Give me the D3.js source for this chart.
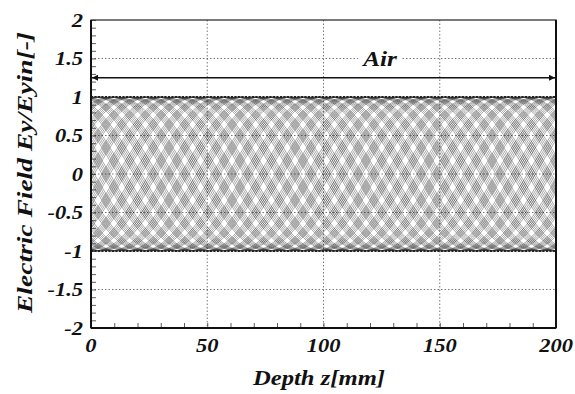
<!DOCTYPE html>
<html><head><meta charset="utf-8">
<script src="https://cdn.jsdelivr.net/npm/d3@7"></script>
<style>body{margin:0;background:#fff}svg{display:block}</style>
</head><body>
<svg id="c" width="575" height="394"></svg>
<script>
// ---- data ----
const xTicks = [0, 50, 100, 150, 200];
const yTicks = [-2, -1.5, -1, -0.5, 0, 0.5, 1, 1.5, 2];
const yTickLabels = ["-2", "-1.5", "-1", "-0.5", "0", "0.5", "1", "1.5", "2"];
const xDomain = [0, 200];
const yDomain = [-2, 2];
const waveAmplitude = [1.0];          // Ey/Eyin peak
const wavelengthMm = [122.0];         // wavelength in air (2.45 GHz)
const phaseGroupDeg = [0, 20, 40, 60, 80, 100, 120, 140, 160, 180, 200, 220, 240, 260, 280, 300, 320, 340];
const phaseSpreadDeg = [-6, -3.5, -1, 1.5, 4];
const sampleStepMm = [0.5];
const regionName = ["Air"];
const regionSpan = [0, 200];
const regionArrowY = [1.25];

// ---- layout ----
const svg = d3.select("#c");
const L = 91, R = 556, T = 20, B = 328;
const x = d3.scaleLinear().domain(xDomain).range([L, R]);
const y = d3.scaleLinear().domain(yDomain).range([B, T]);
const font = sel => sel.style("font-family", '"Liberation Serif", "Times New Roman", serif')
  .style("font-weight", "bold").style("font-style", "italic").style("fill", "#111");

// grid
const g = svg.append("g");
g.selectAll(".gx").data(xTicks.slice(1, -1)).join("line")
  .attr("x1", d => x(d)).attr("x2", d => x(d)).attr("y1", T).attr("y2", B)
  .attr("stroke", "#555").attr("stroke-width", 0.8).attr("stroke-dasharray", "1.5,2");
g.selectAll(".gy").data(yTicks.slice(1, -1)).join("line")
  .attr("x1", L).attr("x2", R).attr("y1", d => y(d)).attr("y2", d => y(d))
  .attr("stroke", "#555").attr("stroke-width", 0.8).attr("stroke-dasharray", "1.5,2");

// waves
const phases = [];
phaseGroupDeg.forEach(c => phaseSpreadDeg.forEach(s => phases.push(c + s)));
const zs = d3.range(xDomain[0], xDomain[1] + 1e-9, sampleStepMm[0]);
const line = d3.line().x(d => x(d[0])).y(d => y(d[1]));
const waves = phases.map(p => zs.map(z =>
  [z, waveAmplitude[0] * Math.sin(2 * Math.PI * z / wavelengthMm[0] - p * Math.PI / 180)]));
svg.append("g").selectAll("path").data(waves).join("path")
  .attr("d", line).attr("fill", "none").attr("stroke", "#000")
  .attr("stroke-width", 0.7).attr("stroke-opacity", 0.5);
// dense edges
[1, -1].forEach(v => {
  svg.append("line").attr("x1", L).attr("x2", R).attr("y1", y(v)).attr("y2", y(v))
    .attr("stroke", "#222").attr("stroke-width", 2).attr("stroke-dasharray", "2,1.5");
});

// axes with inward minor ticks
const axB = d3.axisBottom(x).tickValues(d3.range(0, 201, 10)).tickSize(-5).tickFormat("");
const axL = d3.axisLeft(y).tickValues(d3.range(-20, 21, 1).map(v => v / 10)).tickSize(-5).tickFormat("");
const gb = svg.append("g").attr("transform", `translate(0,${B})`).call(axB);
const gl = svg.append("g").attr("transform", `translate(${L},0)`).call(axL);
[gb, gl].forEach(a => { a.select(".domain").remove(); a.selectAll("line").attr("stroke", "#333").attr("stroke-width", 0.8); });

// frame
svg.append("rect").attr("x", L).attr("y", T).attr("width", R - L).attr("height", B - T)
  .attr("fill", "none").attr("stroke", "#222").attr("stroke-width", 1.2);
svg.append("line").attr("x1", L).attr("x2", L).attr("y1", T).attr("y2", B).attr("stroke", "#111").attr("stroke-width", 2);
svg.append("line").attr("x1", L).attr("x2", R).attr("y1", B).attr("y2", B).attr("stroke", "#111").attr("stroke-width", 2);
svg.append("line").attr("x1", R).attr("x2", R).attr("y1", T).attr("y2", B).attr("stroke", "#111").attr("stroke-width", 2);

// tick labels
svg.append("g").selectAll("text").data(xTicks).join("text")
  .attr("transform", d => `translate(${x(d)},352) scale(1.25,1)`)
  .attr("text-anchor", "middle").attr("font-size", 18).call(font).text(d => d);
svg.append("g").selectAll("text").data(yTicks).join("text")
  .attr("transform", d => `translate(83,${y(d) + 6.5}) scale(1.25,1)`)
  .attr("text-anchor", "end").attr("font-size", 18).call(font)
  .text((d, i) => yTickLabels[i]);

// axis titles
svg.append("text").attr("x", 253).attr("y", 385).attr("textLength", 132).attr("lengthAdjust", "spacingAndGlyphs")
  .attr("font-size", 21).call(font).text("Depth z[mm]");
svg.append("text").attr("transform", "translate(32,313) rotate(-90)").attr("textLength", 281)
  .attr("lengthAdjust", "spacingAndGlyphs")
  .attr("font-size", 21).call(font).text("Electric Field Ey/Eyin[-]");

// region arrow
const defs = svg.append("defs");
defs.append("marker").attr("id", "ah").attr("viewBox", "0 0 10 10").attr("refX", 10).attr("refY", 5)
  .attr("markerWidth", 10).attr("markerHeight", 6).attr("markerUnits", "userSpaceOnUse")
  .attr("orient", "auto-start-reverse").append("path").attr("d", "M0,0L10,5L0,10z").attr("fill", "#111");
svg.append("line").attr("x1", x(regionSpan[0]) + 1).attr("x2", x(regionSpan[1]) - 1)
  .attr("y1", y(regionArrowY[0])).attr("y2", y(regionArrowY[0]))
  .attr("stroke", "#111").attr("stroke-width", 1.5)
  .attr("marker-start", "url(#ah)").attr("marker-end", "url(#ah)");
svg.append("rect").attr("x", 358).attr("y", 48).attr("width", 44).attr("height", 20).attr("fill", "#fff");
svg.append("text").attr("transform", "translate(380,66) scale(1.15,1)").attr("text-anchor", "middle")
  .attr("font-size", 22).call(font).text(regionName[0]);
</script>
</body></html>
